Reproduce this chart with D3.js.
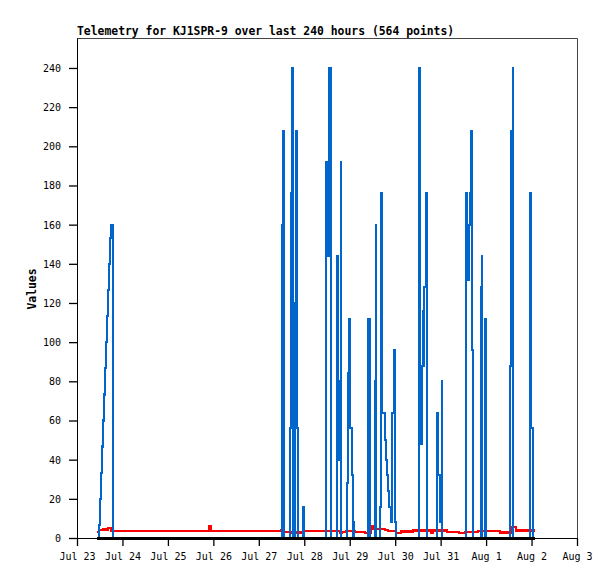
<!DOCTYPE html>
<html>
<head>
<meta charset="utf-8">
<script src="https://cdn.jsdelivr.net/npm/d3@7"></script>
<style>
  html, body { margin: 0; padding: 0; background: #fff; }
  svg { display: block; }
  .tick text { font-family: "DejaVu Sans Mono", monospace; font-size: 10px; fill: #000; }
</style>
</head>
<body>
<svg id="chart" width="615" height="579"></svg>
<script>
// ---- data (hours after Jul 23 00:00 UTC) ----
const titleText = "Telemetry for KJ1SPR-9 over last 240 hours (564 points)";
const yLabel = "Values";
const xTickLabels = ["Jul 23","Jul 24","Jul 25","Jul 26","Jul 27","Jul 28","Jul 29","Jul 30","Jul 31","Aug 1","Aug 2","Aug 3"];
const yTickValues = [0,20,40,60,80,100,120,140,160,180,200,220,240];

const blueHours = [10.56, 11.6, 12.13, 12.66, 13.19, 13.72, 14.25, 14.78, 15.31, 15.84, 16.37, 16.9, 17.43, 17.96, 18.85,
  108.24, 108.77, 109.19,
  112.46, 112.99, 113.52, 113.94,
  115.1, 115.63, 116.32, 116.58,
  119.64, 119.86,
  131.37, 131.89, 132.74, 133.37, 133.9, 134.11,
  137.28, 137.81, 138.34, 139.29, 139.39,
  142.56, 143.09, 143.62, 144.3, 145.04, 145.73, 145.99,
  153.65, 154.55, 154.7,
  157.34, 157.87, 158.03,
  159.98, 160.51, 161.2, 162.62, 163.15, 163.68, 164.21, 164.74, 165.69, 166.32, 167.38, 167.9, 168.33,
  180.47, 181.21, 182.32, 182.95, 183.38, 184.17, 184.69, 184.96,
  190.08, 190.71, 191.66, 192.09, 192.61, 192.72,
  205.39, 205.92, 206.98, 207.5, 208.03, 208.56, 209.09, 209.25,
  213.31, 213.73, 213.84,
  215.42, 215.95, 216.11,
  228.62, 229.15, 230.05, 230.16,
  239.18, 239.87, 240.61, 240.72, 241.82];
const blueValues = [0, 6.7, 20, 33.3, 46.7, 60, 73.3, 86.7, 100, 113.3, 126.7, 140, 153.3, 160, 0,
  160, 208, 0,
  56, 176, 240, 0,
  120, 208, 56, 0,
  16, 0,
  192, 144, 160, 240, 144, 0,
  144, 80, 40, 192, 0,
  28, 84, 112, 56, 32, 8, 0,
  112, 56, 0,
  80, 160, 0,
  16, 176, 64, 50, 40, 32, 24, 16, 8, 64, 96, 8, 0,
  240, 48, 88, 116, 128, 176, 64, 0,
  64, 32, 8, 13, 80, 0,
  176, 132, 160, 176, 208, 96, 48, 0,
  128, 144, 0,
  112, 40, 0,
  88, 208, 240, 0,
  176, 56, 32, 0, 0];

const redHours = [10.56, 11.62, 13.73, 16.37, 17.95, 69.96, 70.49, 70.75, 107.7, 109.3, 112.46, 119.33,
  138.9, 139.9, 142.0, 146.8, 152.1, 155.0, 156.5, 162.6, 164.2, 168.4, 171.1, 177.4,
  186.9, 187.8, 188.0, 195.4, 201.7, 204.9, 211.7, 216.5, 223.3, 229.7, 231.8, 241.82];
const redValues = [3.0, 4.0, 4.3, 5.0, 3.7, 5.8, 4.6, 3.7, 4.2, 3.2, 2.9, 3.7,
  2.6, 3.2, 3.7, 3.2, 2.7, 6.0, 4.6, 4.2, 3.6, 2.6, 3.4, 3.9,
  2.6, 3.7, 3.9, 3.2, 2.7, 3.2, 3.5, 3.7, 2.9, 5.5, 3.8, 3.8];

const zeroHours = [10.56, 241.82];
const zeroValues = [0, 0];

// ---- chart ----
const baseMs = Date.UTC(2023, 6, 23);
const toDate = h => new Date(baseMs + h * 3600 * 1000);

const svg = d3.select("#chart");
const mLeft = 77, mRight = 577, mTop = 38, mBottom = 538;

const x = d3.scaleUtc()
  .domain([new Date(baseMs), new Date(Date.UTC(2023, 7, 3))])
  .range([mLeft, mRight]);
const y = d3.scaleLinear().domain([0, 255.3]).range([mBottom, mTop]);

// frame (top & right)
svg.append("path")
  .attr("d", `M${mLeft},${mTop + 0.5}H${mRight + 0.5}V${mBottom}`)
  .attr("fill", "none").attr("stroke", "#444").attr("stroke-width", 1);

const line = d3.line().curve(d3.curveStepAfter)
  .x(d => x(toDate(d[0]))).y(d => y(d[1]));

function series(hours, values, color, width) {
  const pts = hours.map((h, i) => [h, values[i]]);
  svg.append("path").datum(pts)
    .attr("d", line)
    .attr("fill", "none")
    .attr("stroke", color)
    .attr("stroke-width", width)
    .attr("stroke-linejoin", "miter")
    .attr("shape-rendering", "crispEdges");
}
series(redHours, redValues, "#ff0000", 2.4);
series(blueHours, blueValues, "#0066cc", 2.2);
series(zeroHours, zeroValues, "#000000", 3);

// axes
const days = d3.utcDay.range(new Date(baseMs), new Date(Date.UTC(2023, 7, 3, 1)));
const xAxis = d3.axisBottom(x).tickValues(days)
  .tickFormat((d, i) => xTickLabels[i]).tickSize(8).tickSizeOuter(0);
const gx = svg.append("g").attr("transform", `translate(0,${mBottom})`).call(xAxis);
gx.selectAll(".tick text").attr("y", 22).attr("dy", null);
gx.select(".domain").attr("stroke", "#000");

const yAxis = d3.axisLeft(y).tickValues(yTickValues).tickSize(8).tickPadding(8).tickSizeOuter(0);
const gy = svg.append("g").attr("transform", `translate(${mLeft},0)`).call(yAxis);
gy.selectAll(".tick text").attr("dy", "0.35em");
gy.select(".domain").attr("stroke", "#000");
svg.selectAll(".tick line").attr("stroke", "#000").attr("stroke-width", 1.3);

// title
svg.append("text")
  .attr("x", mLeft).attr("y", 35)
  .attr("font-family", "'DejaVu Sans Mono', monospace")
  .attr("font-weight", "bold").attr("font-size", "11.4px")
  .text(titleText);

// y label
svg.append("text")
  .attr("transform", "translate(36,289) rotate(-90)")
  .attr("text-anchor", "middle")
  .attr("font-family", "'DejaVu Sans Mono', monospace")
  .attr("font-weight", "bold").attr("font-size", "11.4px")
  .text(yLabel);
</script>
</body>
</html>
